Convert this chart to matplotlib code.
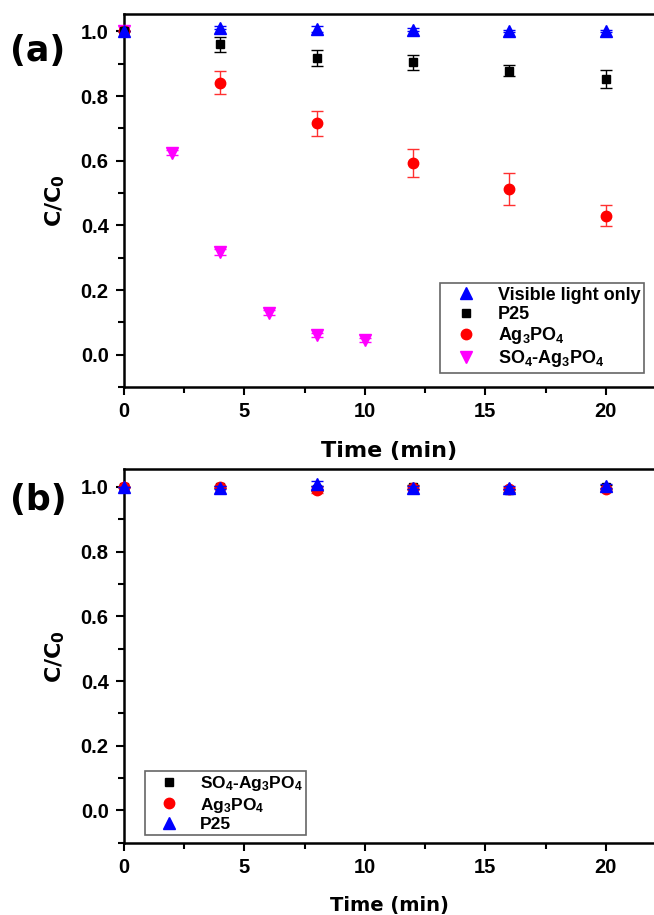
import numpy as np
import matplotlib
matplotlib.use("Agg")
import matplotlib.pyplot as plt
from matplotlib.ticker import MultipleLocator
from matplotlib.font_manager import FontProperties

plt.rcParams['mathtext.fontset'] = 'custom'
plt.rcParams['mathtext.rm'] = 'Liberation Sans:bold'
plt.rcParams['mathtext.bf'] = 'Liberation Sans:bold'
plt.rcParams['mathtext.it'] = 'Liberation Sans:bold'

# panel (a) data
t_a = [0, 4, 8, 12, 16, 20]
vis = [1.0, 1.012, 1.008, 1.006, 1.002, 1.0]
vis_err = [0.0, 0.004, 0.01, 0.004, 0.004, 0.003]
p25 = [1.0, 0.960, 0.919, 0.904, 0.879, 0.853]
p25_err = [0.0, 0.023, 0.025, 0.022, 0.016, 0.028]
ag = [1.0, 0.841, 0.716, 0.593, 0.512, 0.430]
ag_err = [0.0, 0.036, 0.039, 0.042, 0.050, 0.032]
t_so4 = [0, 2, 4, 6, 8, 10]
so4 = [1.0, 0.625, 0.318, 0.130, 0.062, 0.045]
so4_err = [0.0, 0.008, 0.008, 0.008, 0.006, 0.006]

# panel (b) data
t_b = [0, 4, 8, 12, 16, 20]
b_so4 = [1.0, 1.0, 0.995, 1.0, 0.99, 1.0]
b_so4_err = [0.0, 0.004, 0.008, 0.005, 0.005, 0.006]
b_ag = [1.0, 1.0, 0.99, 0.997, 0.995, 0.993]
b_ag_err = [0.0, 0.004, 0.01, 0.006, 0.005, 0.005]
b_p25 = [1.0, 0.998, 1.01, 0.998, 0.998, 1.003]
b_p25_err = [0.0, 0.004, 0.008, 0.005, 0.005, 0.006]

lab_vis = "Visible light only"
lab_p25 = "P25"
lab_ag = "Ag$\\mathbf{_3}$PO$\\mathbf{_4}$"
lab_so4 = "SO$\\mathbf{_4}$-Ag$\\mathbf{_3}$PO$\\mathbf{_4}$"

fig = plt.figure(figsize=(6.54, 9.15), dpi=100)
ax1 = fig.add_axes([0.1896, 0.577, 0.8104, 0.4077])
ax2 = fig.add_axes([0.1896, 0.079, 0.8104, 0.4079])

tick_font = dict(family='Liberation Sans', weight='bold', size=14.5)


def style(ax):
    ax.set_xlim(0, 22)
    ax.set_ylim(-0.1, 1.054)
    ax.xaxis.set_major_locator(MultipleLocator(5))
    ax.xaxis.set_minor_locator(MultipleLocator(2.5))
    ax.yaxis.set_minor_locator(MultipleLocator(0.1))
    ax.set_yticks([0.0, 0.2, 0.4, 0.6, 0.8, 1.0])
    ax.set_yticklabels(['0.0', '0.2', '0.4', '0.6', '0.8', '1.0'])
    ax.tick_params(which='major', direction='out', length=6, width=1.5, pad=5)
    ax.tick_params(which='minor', direction='out', length=4, width=1.5)
    ax.tick_params(top=False, right=False)
    for s in ['left', 'bottom', 'top']:
        ax.spines[s].set_linewidth(1.8)
    ax.spines['right'].set_visible(False)
    for lbl in ax.get_xticklabels() + ax.get_yticklabels():
        lbl.set_fontproperties(FontProperties(**tick_font))
    ax.set_ylabel("C/C$_\\mathregular{0}$", family='DejaVu Sans', weight='bold',
                  fontsize=16, labelpad=10)


ek = dict(linestyle='none', capsize=4, elinewidth=1, capthick=1, clip_on=False)

# panel (a)
ax1.errorbar(t_so4, so4, yerr=so4_err, marker='v', ms=8, color='#ff00ff',
             ecolor='#ff00ff', label=lab_so4, zorder=3, **ek)
ax1.errorbar(t_a, ag, yerr=ag_err, marker='o', ms=7.5, color='#ff0000',
             ecolor='#ff3030', label=lab_ag, zorder=3, **ek)
ax1.errorbar(t_a, p25, yerr=p25_err, marker='s', ms=6, color='black',
             ecolor='black', label=lab_p25, zorder=3, **ek)
ax1.errorbar(t_a, vis, yerr=vis_err, marker='^', ms=8, color='#0000ff',
             ecolor='#0000ff', label=lab_vis, zorder=3, **ek)
style(ax1)
ax1.set_xlabel("Time (min)", family='DejaVu Sans', weight='bold', fontsize=16, labelpad=14)
h, l = ax1.get_legend_handles_labels()
h = [hh[0] for hh in h]
leg1 = ax1.legend(h[::-1], l[::-1], loc='lower right', bbox_to_anchor=(0.982, 0.038),
                  frameon=True, fancybox=False, edgecolor='#404040',
                  prop=dict(family='Liberation Sans', weight='bold', size=13),
                  handletextpad=0.6, labelspacing=0.12, borderpad=0.2, handlelength=2.4,
                  borderaxespad=0)
leg1.get_frame().set_linewidth(1.2)
fig.text(0.015, 0.933, "(a)", family='DejaVu Sans', weight='bold', fontsize=25)

# panel (b)
ax2.errorbar(t_b, b_so4, yerr=b_so4_err, marker='s', ms=6, color='black',
             ecolor='black', label=lab_so4, zorder=3, **ek)
ax2.errorbar(t_b, b_ag, yerr=b_ag_err, marker='o', ms=7.5, color='#ff0000',
             ecolor='#ff3030', label=lab_ag, zorder=3, **ek)
ax2.errorbar(t_b, b_p25, yerr=b_p25_err, marker='^', ms=8, color='#0000ff',
             ecolor='#0000ff', label=lab_p25, zorder=4, **ek)
style(ax2)
ax2.set_xlabel("Time (min)", family='DejaVu Sans', weight='bold', fontsize=14, labelpad=14)
h2, l2 = ax2.get_legend_handles_labels()
h2 = [hh[0] for hh in h2]
leg2 = ax2.legend(h2, l2, loc='lower left', bbox_to_anchor=(0.039, 0.02),
                  frameon=True, fancybox=False, edgecolor='#404040',
                  prop=dict(family='Liberation Sans', weight='bold', size=12.5),
                  handletextpad=0.6, labelspacing=0.12, borderpad=0.2, handlelength=2.4,
                  borderaxespad=0)
leg2.get_frame().set_linewidth(1.2)
fig.text(0.015, 0.443, "(b)", family='DejaVu Sans', weight='bold', fontsize=25)

fig.savefig("out.png", dpi=100)
